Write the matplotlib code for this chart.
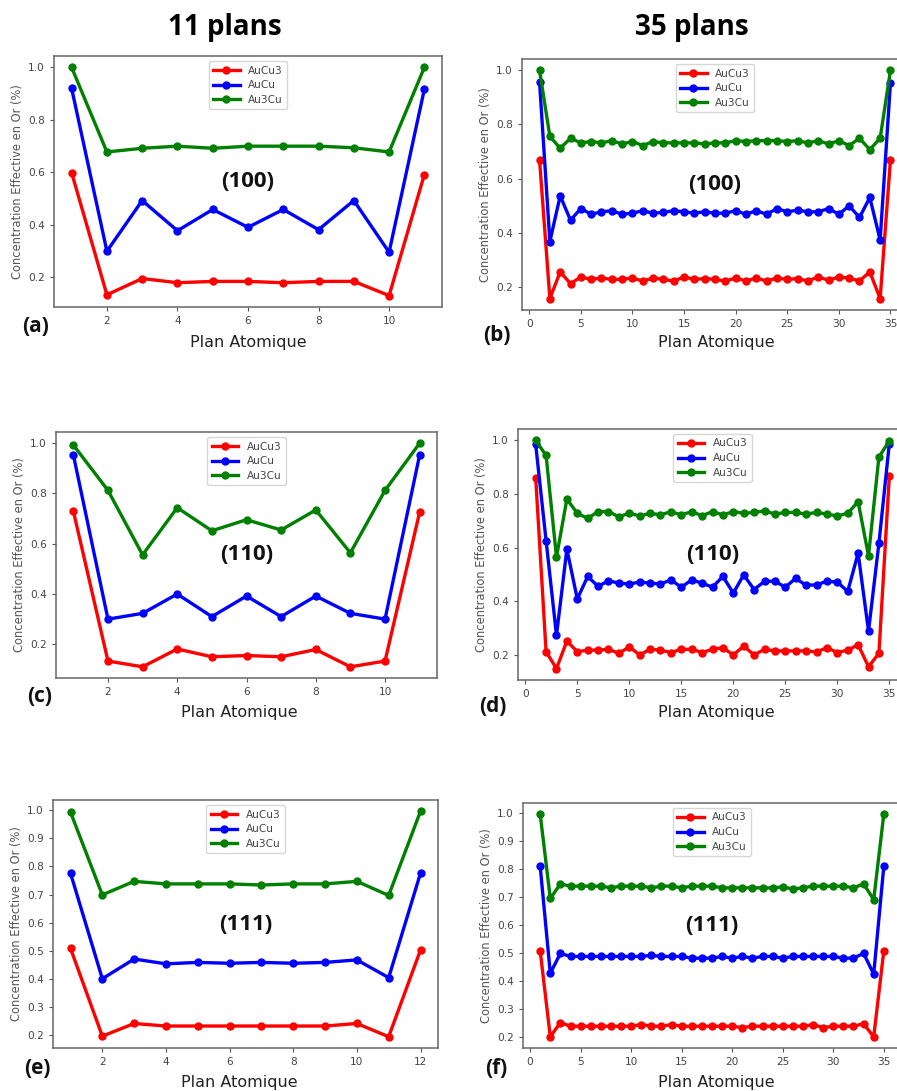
import numpy as np
import matplotlib
matplotlib.use("Agg")
import matplotlib.pyplot as plt
from matplotlib.ticker import MultipleLocator

# ---- data ----
series_names = ["AuCu3", "AuCu", "Au3Cu"]
series_colors = ["red", "blue", "green"]

a_aucu3 = [0.599, 0.134, 0.196, 0.180, 0.185, 0.185, 0.180, 0.185, 0.185, 0.131, 0.592]
a_aucu = [0.920, 0.300, 0.493, 0.378, 0.459, 0.391, 0.459, 0.382, 0.493, 0.296, 0.917]
a_au3cu = [1.0, 0.678, 0.692, 0.700, 0.692, 0.700, 0.700, 0.700, 0.694, 0.678, 1.0]

b_aucu3 = [0.669, 0.156, 0.255, 0.211, 0.236, 0.227, 0.232, 0.227, 0.227, 0.232,
           0.221, 0.232, 0.227, 0.221, 0.236, 0.227, 0.230, 0.227, 0.221, 0.232,
           0.221, 0.232, 0.221, 0.232, 0.227, 0.230, 0.221, 0.236, 0.224, 0.236,
           0.232, 0.221, 0.255, 0.156, 0.669]
b_aucu = [0.957, 0.367, 0.536, 0.446, 0.489, 0.468, 0.477, 0.481, 0.468, 0.472,
          0.481, 0.472, 0.475, 0.481, 0.477, 0.472, 0.477, 0.472, 0.472, 0.481,
          0.468, 0.481, 0.468, 0.489, 0.477, 0.483, 0.477, 0.477, 0.489, 0.468,
          0.499, 0.456, 0.530, 0.373, 0.954]
b_au3cu = [1.0, 0.756, 0.712, 0.749, 0.732, 0.737, 0.732, 0.740, 0.728, 0.737,
           0.722, 0.737, 0.732, 0.732, 0.732, 0.732, 0.728, 0.732, 0.732, 0.740,
           0.737, 0.740, 0.740, 0.740, 0.737, 0.740, 0.732, 0.740, 0.728, 0.740,
           0.722, 0.749, 0.707, 0.749, 1.0]

c_aucu3 = [0.730, 0.132, 0.109, 0.180, 0.149, 0.154, 0.149, 0.178, 0.109, 0.132, 0.726]
c_aucu = [0.954, 0.299, 0.322, 0.399, 0.309, 0.391, 0.309, 0.391, 0.322, 0.299, 0.954]
c_au3cu = [0.993, 0.812, 0.555, 0.743, 0.651, 0.695, 0.654, 0.734, 0.563, 0.812, 1.0]

d_aucu3 = [0.861, 0.211, 0.148, 0.251, 0.211, 0.217, 0.217, 0.220, 0.205, 0.229,
           0.199, 0.220, 0.217, 0.208, 0.220, 0.220, 0.208, 0.220, 0.226, 0.199,
           0.232, 0.199, 0.220, 0.214, 0.214, 0.214, 0.214, 0.210, 0.226, 0.208,
           0.217, 0.237, 0.155, 0.205, 0.866]
d_aucu = [0.985, 0.626, 0.272, 0.594, 0.408, 0.492, 0.455, 0.476, 0.467, 0.464,
          0.471, 0.467, 0.464, 0.479, 0.452, 0.479, 0.467, 0.452, 0.492, 0.430,
          0.498, 0.443, 0.474, 0.474, 0.452, 0.485, 0.459, 0.461, 0.474, 0.471,
          0.436, 0.579, 0.288, 0.616, 0.988]
d_au3cu = [1.0, 0.944, 0.564, 0.781, 0.728, 0.709, 0.734, 0.734, 0.715, 0.728,
           0.718, 0.728, 0.722, 0.734, 0.722, 0.734, 0.719, 0.734, 0.722, 0.734,
           0.728, 0.731, 0.737, 0.725, 0.731, 0.731, 0.725, 0.731, 0.725, 0.718,
           0.728, 0.771, 0.569, 0.938, 0.998]

e_aucu3 = [0.509, 0.197, 0.242, 0.233, 0.233, 0.233, 0.233, 0.233, 0.233, 0.242, 0.195, 0.503]
e_aucu = [0.776, 0.401, 0.471, 0.454, 0.459, 0.456, 0.459, 0.456, 0.459, 0.468, 0.405, 0.776]
e_au3cu = [0.993, 0.699, 0.747, 0.738, 0.738, 0.738, 0.734, 0.738, 0.738, 0.747, 0.697, 0.996]

f_aucu3 = [0.507, 0.200, 0.251, 0.238, 0.238, 0.238, 0.238, 0.238, 0.238, 0.238,
           0.244, 0.238, 0.238, 0.244, 0.238, 0.238, 0.238, 0.238, 0.238, 0.238,
           0.233, 0.238, 0.238, 0.238, 0.238, 0.238, 0.238, 0.244, 0.233, 0.238,
           0.238, 0.238, 0.247, 0.200, 0.507]
f_aucu = [0.809, 0.427, 0.498, 0.487, 0.487, 0.487, 0.487, 0.487, 0.487, 0.487,
          0.487, 0.491, 0.487, 0.487, 0.487, 0.481, 0.481, 0.481, 0.487, 0.481,
          0.487, 0.481, 0.487, 0.487, 0.481, 0.487, 0.487, 0.487, 0.487, 0.487,
          0.481, 0.481, 0.498, 0.424, 0.809]
f_au3cu = [0.995, 0.694, 0.746, 0.738, 0.738, 0.738, 0.738, 0.732, 0.738, 0.738,
           0.738, 0.732, 0.738, 0.738, 0.732, 0.738, 0.738, 0.738, 0.732, 0.732,
           0.732, 0.732, 0.732, 0.732, 0.735, 0.728, 0.732, 0.738, 0.738, 0.738,
           0.738, 0.732, 0.746, 0.690, 0.995]

W, H = 897, 1091
BOLD = ["Open Sans", "DejaVu Sans"]

fig = plt.figure(figsize=(W / 100, H / 100), dpi=100)


def px_axes(x0, y0, x1, y1):
    # pixel box (top-left origin) -> figure axes
    return fig.add_axes([x0 / W, 1 - y1 / H, (x1 - x0) / W, (y1 - y0) / H])


def fig_text(x, y, s, **kw):
    fig.text(x / W, 1 - y / H, s, ha="center", va="center", **kw)


panels = [
    # box, data, xstep, ystep, orientation, tag, xlabel pos, tag pos
    ((54, 56, 442, 307), [a_aucu3, a_aucu, a_au3cu], 2, 0.2, "(100)", "(a)", (248, 343), (36, 327)),
    ((522, 59, 908, 310), [b_aucu3, b_aucu, b_au3cu], 5, 0.2, "(100)", "(b)", (716, 343), (497, 335)),
    ((56, 432, 437, 678), [c_aucu3, c_aucu, c_au3cu], 2, 0.2, "(110)", "(c)", (239, 713), (40, 697)),
    ((518, 429, 907, 680), [d_aucu3, d_aucu, d_au3cu], 5, 0.2, "(110)", "(d)", (716, 713), (493, 706)),
    ((53, 800, 438, 1048), [e_aucu3, e_aucu, e_au3cu], 2, 0.1, "(111)", "(e)", (239, 1083), (37, 1068)),
    ((523, 803, 901, 1048), [f_aucu3, f_aucu, f_au3cu], 5, 0.1, "(111)", "(f)", (716, 1083), (496, 1068)),
]

for box, data, xstep, ystep, orient, tag, xl, tg in panels:
    ax = px_axes(*box)
    for vals, name, col in zip(data, series_names, series_colors):
        x = np.arange(1, len(vals) + 1)
        ax.plot(x, vals, "-o", color=col, lw=2.4, ms=5, label=name)
    ax.xaxis.set_major_locator(MultipleLocator(xstep))
    ax.yaxis.set_major_locator(MultipleLocator(ystep))
    if xstep == 2:
        ax.set_xticks([t for t in ax.get_xticks() if 2 <= t <= len(data[0])])
    ax.tick_params(labelsize=7.6, labelcolor="#444444", color="#555555", length=3)
    for sp in ax.spines.values():
        sp.set_color("#666666")
        sp.set_linewidth(1.1)
    ax.set_ylabel("Concentration Effective en Or (%)", fontsize=8.3, color="#555555",
                  labelpad=3)
    leg = ax.legend(loc="upper center", fontsize=7.6, handlelength=2.5,
                    borderaxespad=0.5, labelspacing=0.45)
    for t in leg.get_texts():
        t.set_color("#444444")
    ax.text(0.5, 0.5, orient, transform=ax.transAxes, ha="center", va="center",
            fontsize=16, fontweight="bold", family=BOLD, color="#111111")
    fig_text(xl[0], xl[1], "Plan Atomique", fontsize=11.5, color="#222222")
    fig_text(tg[0], tg[1], tag, fontsize=15, fontweight="bold", family=BOLD, color="#111111")

fig_text(225, 28, "11 plans", fontsize=20, fontweight="bold", family=BOLD)
fig_text(692, 28, "35 plans", fontsize=20, fontweight="bold", family=BOLD)

fig.savefig("out.png", dpi=100)
